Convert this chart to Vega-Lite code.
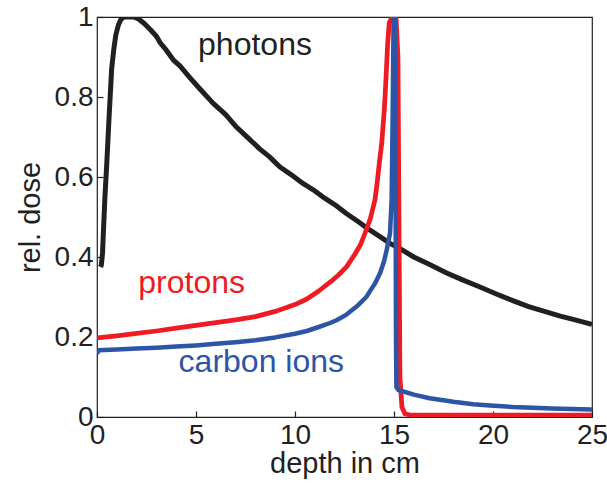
{
  "$schema": "https://vega.github.io/schema/vega-lite/v6.json",
  "width": 495,
  "height": 400,
  "autosize": "none",
  "padding": {"left": 97, "top": 17, "right": 15, "bottom": 76},
  "background": "white",
  "config": {
    "view": {"stroke": "#231f20", "strokeWidth": 1.2},
    "font": "Liberation Sans",
    "axis": {
      "domain": false,
      "tickColor": "#231f20",
      "tickWidth": 1.2,
      "tickSize": -6,
      "grid": false,
      "labelFlush": false,
      "labelFont": "Liberation Sans",
      "labelFontSize": 28,
      "labelColor": "#231f20",
      "titleFont": "Liberation Sans",
      "titleFontSize": 29,
      "titleFontWeight": "normal",
      "titleColor": "#231f20"
    }
  },
  "datasets": {
    "curves": [
      {"series": "photons", "depth": 0.18, "dose": 0.375},
      {"series": "photons", "depth": 0.22, "dose": 0.38},
      {"series": "photons", "depth": 0.28, "dose": 0.41},
      {"series": "photons", "depth": 0.33, "dose": 0.47},
      {"series": "photons", "depth": 0.4, "dose": 0.55},
      {"series": "photons", "depth": 0.49, "dose": 0.63},
      {"series": "photons", "depth": 0.61, "dose": 0.75},
      {"series": "photons", "depth": 0.74, "dose": 0.87},
      {"series": "photons", "depth": 0.85, "dose": 0.92},
      {"series": "photons", "depth": 0.95, "dose": 0.955},
      {"series": "photons", "depth": 1.08, "dose": 0.98},
      {"series": "photons", "depth": 1.2, "dose": 0.993},
      {"series": "photons", "depth": 1.35, "dose": 1.0},
      {"series": "photons", "depth": 1.6, "dose": 1.0},
      {"series": "photons", "depth": 1.85, "dose": 1.0},
      {"series": "photons", "depth": 2.1, "dose": 0.995},
      {"series": "photons", "depth": 2.4, "dose": 0.983},
      {"series": "photons", "depth": 2.7, "dose": 0.968},
      {"series": "photons", "depth": 3.0, "dose": 0.952},
      {"series": "photons", "depth": 3.2, "dose": 0.935},
      {"series": "photons", "depth": 3.5, "dose": 0.917},
      {"series": "photons", "depth": 3.85, "dose": 0.893},
      {"series": "photons", "depth": 4.2, "dose": 0.877},
      {"series": "photons", "depth": 4.7, "dose": 0.848},
      {"series": "photons", "depth": 5.2, "dose": 0.82},
      {"series": "photons", "depth": 5.87, "dose": 0.784},
      {"series": "photons", "depth": 6.5, "dose": 0.756},
      {"series": "photons", "depth": 7.0, "dose": 0.727},
      {"series": "photons", "depth": 7.56, "dose": 0.701},
      {"series": "photons", "depth": 8.2, "dose": 0.671},
      {"series": "photons", "depth": 8.7, "dose": 0.651},
      {"series": "photons", "depth": 9.24, "dose": 0.625},
      {"series": "photons", "depth": 9.8, "dose": 0.606},
      {"series": "photons", "depth": 10.4, "dose": 0.584},
      {"series": "photons", "depth": 10.92, "dose": 0.568},
      {"series": "photons", "depth": 11.5, "dose": 0.547},
      {"series": "photons", "depth": 12.0, "dose": 0.531},
      {"series": "photons", "depth": 12.61, "dose": 0.508},
      {"series": "photons", "depth": 13.2, "dose": 0.488},
      {"series": "photons", "depth": 13.79, "dose": 0.467},
      {"series": "photons", "depth": 14.29, "dose": 0.451},
      {"series": "photons", "depth": 14.8, "dose": 0.434},
      {"series": "photons", "depth": 15.3, "dose": 0.421},
      {"series": "photons", "depth": 16.0, "dose": 0.4},
      {"series": "photons", "depth": 16.8, "dose": 0.381},
      {"series": "photons", "depth": 17.66, "dose": 0.36},
      {"series": "photons", "depth": 18.4, "dose": 0.344},
      {"series": "photons", "depth": 19.34, "dose": 0.325},
      {"series": "photons", "depth": 20.2, "dose": 0.307},
      {"series": "photons", "depth": 21.0, "dose": 0.291},
      {"series": "photons", "depth": 21.8, "dose": 0.276},
      {"series": "photons", "depth": 22.6, "dose": 0.264},
      {"series": "photons", "depth": 23.4, "dose": 0.252},
      {"series": "photons", "depth": 24.2, "dose": 0.242},
      {"series": "photons", "depth": 24.9, "dose": 0.233},
      {"series": "photons", "depth": 25.0, "dose": 0.231},

      {"series": "protons", "depth": 0, "dose": 0.198},
      {"series": "protons", "depth": 1, "dose": 0.203},
      {"series": "protons", "depth": 2, "dose": 0.209},
      {"series": "protons", "depth": 3, "dose": 0.215},
      {"series": "protons", "depth": 4, "dose": 0.222},
      {"series": "protons", "depth": 5, "dose": 0.229},
      {"series": "protons", "depth": 6, "dose": 0.236},
      {"series": "protons", "depth": 7, "dose": 0.243},
      {"series": "protons", "depth": 8, "dose": 0.251},
      {"series": "protons", "depth": 9, "dose": 0.264},
      {"series": "protons", "depth": 10, "dose": 0.281},
      {"series": "protons", "depth": 10.6, "dose": 0.295},
      {"series": "protons", "depth": 11.2, "dose": 0.315},
      {"series": "protons", "depth": 11.77, "dose": 0.337},
      {"series": "protons", "depth": 12.2, "dose": 0.355},
      {"series": "protons", "depth": 12.61, "dose": 0.376},
      {"series": "protons", "depth": 13.0, "dose": 0.405},
      {"series": "protons", "depth": 13.3, "dose": 0.43},
      {"series": "protons", "depth": 13.54, "dose": 0.46},
      {"series": "protons", "depth": 13.8, "dose": 0.495},
      {"series": "protons", "depth": 14.04, "dose": 0.543},
      {"series": "protons", "depth": 14.16, "dose": 0.59},
      {"series": "protons", "depth": 14.27, "dose": 0.64},
      {"series": "protons", "depth": 14.38, "dose": 0.684},
      {"series": "protons", "depth": 14.51, "dose": 0.768},
      {"series": "protons", "depth": 14.6, "dose": 0.85},
      {"series": "protons", "depth": 14.68, "dose": 0.934},
      {"series": "protons", "depth": 14.76, "dose": 0.985},
      {"series": "protons", "depth": 14.9, "dose": 1.0},
      {"series": "protons", "depth": 15.1, "dose": 1.0},
      {"series": "protons", "depth": 15.2, "dose": 0.9},
      {"series": "protons", "depth": 15.25, "dose": 0.5},
      {"series": "protons", "depth": 15.3, "dose": 0.1},
      {"series": "protons", "depth": 15.4, "dose": 0.025},
      {"series": "protons", "depth": 15.55, "dose": 0.008},
      {"series": "protons", "depth": 15.8, "dose": 0.005},
      {"series": "protons", "depth": 25.0, "dose": 0.005},

      {"series": "carbon ions", "depth": 0, "dose": 0.158},
      {"series": "carbon ions", "depth": 0.08, "dose": 0.167},
      {"series": "carbon ions", "depth": 1, "dose": 0.169},
      {"series": "carbon ions", "depth": 2, "dose": 0.171},
      {"series": "carbon ions", "depth": 3, "dose": 0.173},
      {"series": "carbon ions", "depth": 4, "dose": 0.176},
      {"series": "carbon ions", "depth": 5, "dose": 0.179},
      {"series": "carbon ions", "depth": 6, "dose": 0.183},
      {"series": "carbon ions", "depth": 7, "dose": 0.187},
      {"series": "carbon ions", "depth": 8, "dose": 0.192},
      {"series": "carbon ions", "depth": 9, "dose": 0.199},
      {"series": "carbon ions", "depth": 10, "dose": 0.208},
      {"series": "carbon ions", "depth": 10.6, "dose": 0.215},
      {"series": "carbon ions", "depth": 11.2, "dose": 0.225},
      {"series": "carbon ions", "depth": 11.77, "dose": 0.235},
      {"series": "carbon ions", "depth": 12.12, "dose": 0.2425},
      {"series": "carbon ions", "depth": 12.6, "dose": 0.256},
      {"series": "carbon ions", "depth": 13.11, "dose": 0.276},
      {"series": "carbon ions", "depth": 13.6, "dose": 0.3},
      {"series": "carbon ions", "depth": 14.04, "dose": 0.334},
      {"series": "carbon ions", "depth": 14.3, "dose": 0.36},
      {"series": "carbon ions", "depth": 14.5, "dose": 0.39},
      {"series": "carbon ions", "depth": 14.63, "dose": 0.4175},
      {"series": "carbon ions", "depth": 14.8, "dose": 0.46},
      {"series": "carbon ions", "depth": 14.88, "dose": 0.543},
      {"series": "carbon ions", "depth": 14.92, "dose": 0.7},
      {"series": "carbon ions", "depth": 14.95, "dose": 0.85},
      {"series": "carbon ions", "depth": 14.98, "dose": 1.0},
      {"series": "carbon ions", "depth": 15.05, "dose": 1.0},
      {"series": "carbon ions", "depth": 15.08, "dose": 0.6},
      {"series": "carbon ions", "depth": 15.1, "dose": 0.2},
      {"series": "carbon ions", "depth": 15.12, "dose": 0.075},
      {"series": "carbon ions", "depth": 15.22, "dose": 0.0675},
      {"series": "carbon ions", "depth": 16.0, "dose": 0.056},
      {"series": "carbon ions", "depth": 16.8, "dose": 0.047},
      {"series": "carbon ions", "depth": 18.0, "dose": 0.038},
      {"series": "carbon ions", "depth": 19.0, "dose": 0.032},
      {"series": "carbon ions", "depth": 19.85, "dose": 0.029},
      {"series": "carbon ions", "depth": 21.0, "dose": 0.025},
      {"series": "carbon ions", "depth": 22.0, "dose": 0.023},
      {"series": "carbon ions", "depth": 23.0, "dose": 0.021},
      {"series": "carbon ions", "depth": 24.0, "dose": 0.02},
      {"series": "carbon ions", "depth": 25.0, "dose": 0.019}
    ],
    "labels": [
      {"series": "photons", "depth": 7.98, "dose": 0.93},
      {"series": "protons", "depth": 4.78, "dose": 0.335},
      {"series": "carbon ions", "depth": 8.3, "dose": 0.137}
    ]
  },
  "layer": [
    {
      "data": {"name": "curves"},
      "mark": {"type": "line", "clip": true, "strokeCap": "butt", "strokeJoin": "round"},
      "encoding": {
        "x": {
          "field": "depth", "type": "quantitative",
          "scale": {"domain": [0, 25], "nice": false, "zero": false},
          "axis": {"orient": "bottom", "values": [0, 5, 10, 15, 20, 25], "title": "depth in cm", "labelPadding": 10, "titlePadding": 0}
        },
        "y": {
          "field": "dose", "type": "quantitative",
          "scale": {"domain": [0, 1], "nice": false, "zero": false},
          "axis": {"orient": "left", "values": [0, 0.2, 0.4, 0.6, 0.8, 1], "title": "rel. dose", "labelPadding": 10, "titlePadding": 9,
                   "labelExpr": "datum.value == 0 ? '0' : datum.value == 1 ? '1' : format(datum.value, '.1f')"}
        },
        "color": {
          "field": "series", "type": "nominal",
          "scale": {"domain": ["photons", "protons", "carbon ions"], "range": ["#231f20", "#ed1c24", "#2c55a6"]},
          "legend": null
        },
        "strokeWidth": {
          "field": "series", "type": "nominal",
          "scale": {"domain": ["photons", "protons", "carbon ions"], "range": [5, 4.5, 5.5]},
          "legend": null
        },
        "order": {"field": "depth", "type": "quantitative"}
      }
    },
    {
      "data": {"name": "labels"},
      "mark": {"type": "text", "fontSize": 32, "font": "Liberation Sans", "align": "center", "baseline": "middle"},
      "encoding": {
        "x": {
          "field": "depth", "type": "quantitative",
          "scale": {"domain": [0, 25], "nice": false, "zero": false},
          "axis": null
        },
        "y": {
          "field": "dose", "type": "quantitative",
          "scale": {"domain": [0, 1], "nice": false, "zero": false},
          "axis": null
        },
        "text": {"field": "series"},
        "color": {
          "field": "series", "type": "nominal",
          "scale": {"domain": ["photons", "protons", "carbon ions"], "range": ["#231f20", "#ed1c24", "#2c55a6"]},
          "legend": null
        }
      }
    }
  ],
  "resolve": {
    "scale": {"x": "independent", "y": "independent", "color": "independent"}
  }
}
